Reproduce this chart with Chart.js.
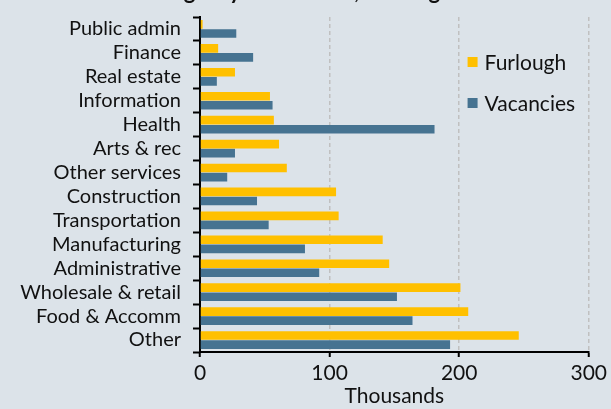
<!DOCTYPE html>
<html>
<head>
<meta charset="utf-8">
<script src="https://cdn.jsdelivr.net/npm/chart.js@4"></script>
<style>
  html, body { margin: 0; padding: 0; background: #dce3e9; }
  #wrap { position: relative; width: 611px; height: 409px; }
</style>
</head>
<body>
<div id="wrap"><canvas id="c" width="611" height="409"></canvas></div>
<script>
const categories = ["Public admin", "Finance", "Real estate", "Information", "Health", "Arts & rec",
  "Other services", "Construction", "Transportation", "Manufacturing", "Administrative",
  "Wholesale & retail", "Food & Accomm", "Other"];
const furlough = [2, 14, 27, 54, 57, 61, 67, 105, 107, 141, 146, 201, 207, 246];
const vacancies = [28, 41, 13, 56, 181, 27, 21, 44, 53, 81, 92, 152, 164, 193];
const xTicks = [0, 100, 200, 300];
const titleText = "Furlough by industries, the big mismatch";
const axisTitle = "Thousands";

const FONT = "Lato, 'Noto Sans', sans-serif";

const titleAndLegend = {
  id: 'titleAndLegend',
  afterDraw(chart) {
    const ctx = chart.ctx;
    ctx.save();
    // title (cut off at top in the reference)
    ctx.fillStyle = '#111';
    ctx.font = "bold 22px " + FONT;
    ctx.textAlign = 'left';
    ctx.textBaseline = 'alphabetic';
    try { ctx.letterSpacing = '1px'; } catch (e) {}
    ctx.fillText(titleText, 115, -1);
    try { ctx.letterSpacing = '0px'; } catch (e) {}
    // legend
    const xs = chart.scales.x;
    const lx = xs.getPixelForValue(206.5);
    const ys = [62, 103];
    ctx.font = "21px " + FONT;
    ctx.textBaseline = 'middle';
    chart.data.datasets.forEach((ds, i) => {
      ctx.fillStyle = ds.backgroundColor;
      ctx.fillRect(lx, ys[i] - 5, 10, 10);
      ctx.fillStyle = '#111';
      ctx.fillText(ds.label, lx + 17, ys[i] + 1);
    });
    ctx.restore();
  }
};

new Chart(document.getElementById('c'), {
  type: 'bar',
  data: {
    labels: categories,
    datasets: [
      { label: 'Furlough', data: furlough, backgroundColor: '#ffc000', categoryPercentage: 0.76, barPercentage: 0.95 },
      { label: 'Vacancies', data: vacancies, backgroundColor: '#467391', categoryPercentage: 0.76, barPercentage: 0.95 }
    ]
  },
  options: {
    indexAxis: 'y',
    responsive: false,
    animation: false,
    devicePixelRatio: 1,
    layout: { padding: { top: 17, right: 22, left: 0, bottom: 0 } },
    plugins: { legend: { display: false }, title: { display: false }, tooltip: { enabled: false } },
    scales: {
      x: {
        min: 0, max: 300,
        afterBuildTicks(s) { s.ticks = xTicks.map(v => ({ value: v })); },
        afterFit(s) { s.height = 57; },
        grid: { color: '#c0c0c0', lineWidth: 1.5, tickColor: '#000', tickLength: 5, tickWidth: 2 },
        border: { color: '#000', width: 2, dash: [4, 3] },
        ticks: { color: '#111', font: { family: FONT, size: 21 }, padding: 4 },
        title: { display: true, text: axisTitle, color: '#111', font: { family: FONT, size: 21 }, padding: { top: -5, bottom: 0 } }
      },
      y: {
        afterFit(s) { s.width = 200; s.paddingTop = 0; s.paddingBottom = 0; },
        grid: { drawOnChartArea: false, tickColor: '#000', tickLength: 7, tickWidth: 2 },
        border: { color: '#000', width: 2 },
        ticks: { color: '#111', font: { family: FONT, size: 20 }, padding: 12, autoSkip: false }
      }
    }
  },
  plugins: [titleAndLegend]
});
</script>
</body>
</html>
